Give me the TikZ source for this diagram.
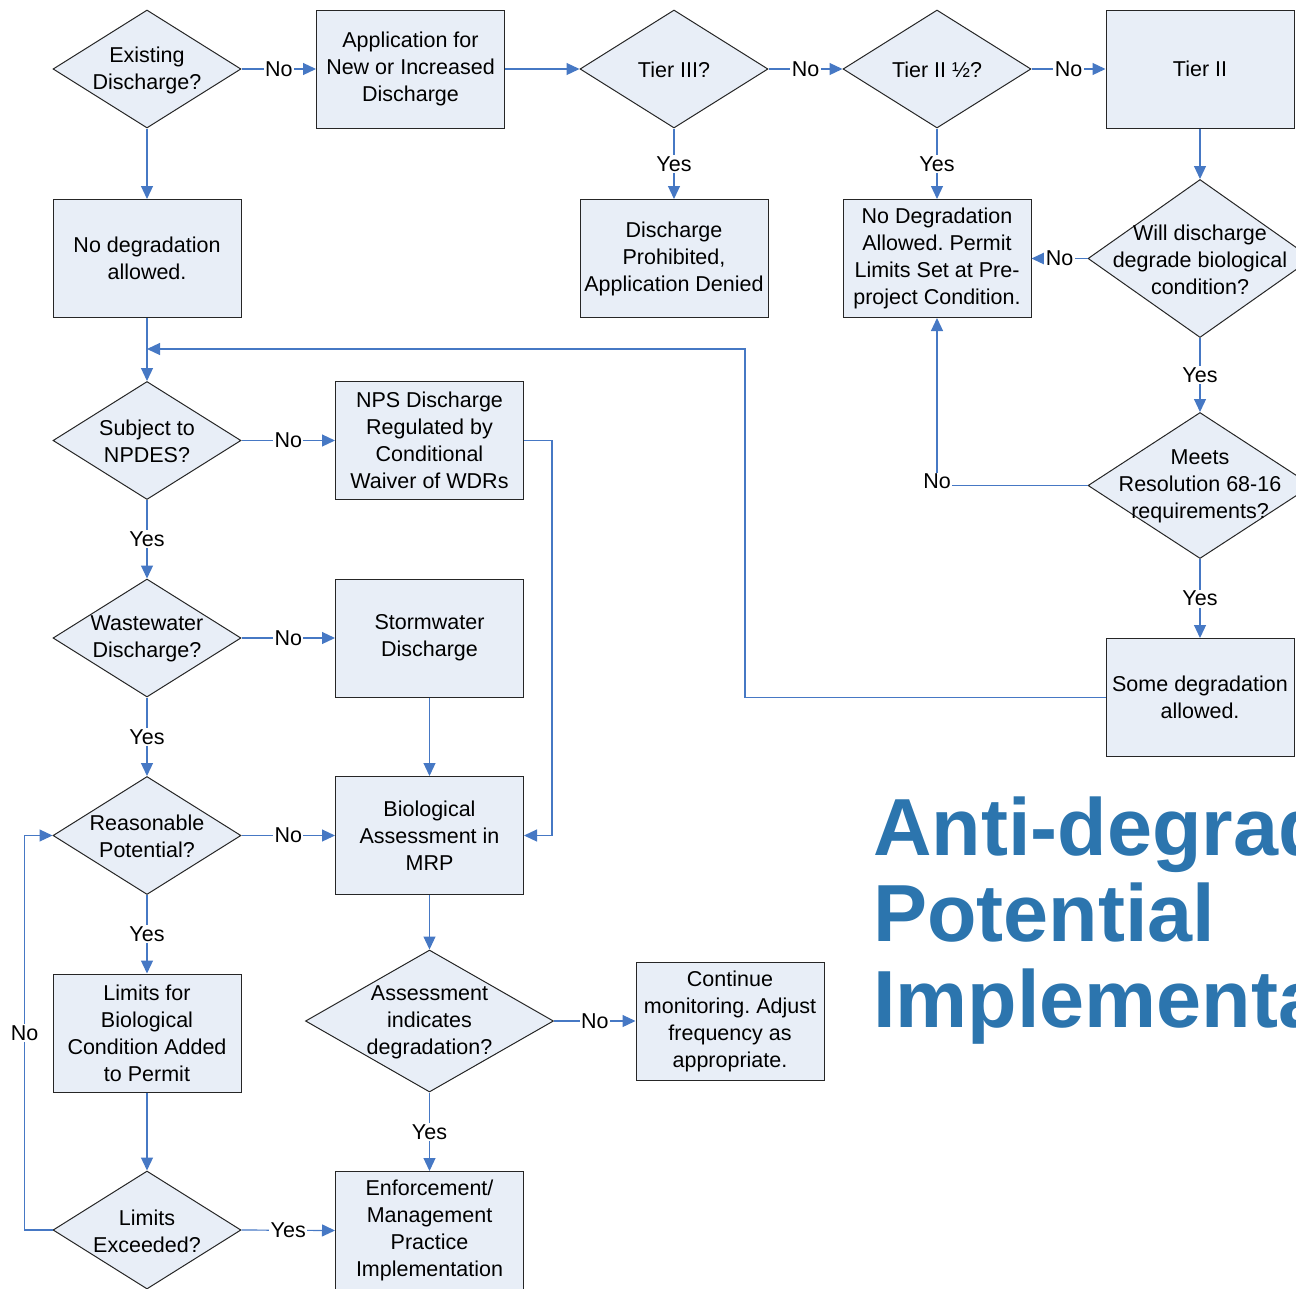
\documentclass[tikz,border=0pt]{standalone}
\usepackage{fontspec}
\setmainfont{Liberation Sans}
\usetikzlibrary{shapes.geometric,arrows.meta}
\definecolor{boxfill}{RGB}{232,238,247}
\definecolor{flowblue}{RGB}{70,120,196}
\definecolor{titleblue}{RGB}{44,117,174}
\frenchspacing
\begin{document}
\begin{tikzpicture}[x=1pt,y=-1pt,
  every node/.style={font=\fontsize{21.5}{27}\selectfont},
  procbox/.style={draw=black!85, line width=1pt, fill=boxfill, minimum width=188pt,
    minimum height=118pt, inner sep=0pt, align=center},
  decision/.style={diamond, draw=black!85, line width=1pt, fill=boxfill,
    minimum width=188pt, minimum height=118pt, inner sep=0pt},
  dtext/.style={align=center, inner sep=0pt, yshift=-1pt},
  flow/.style={draw=flowblue, line width=1.2pt, -{Triangle[length=13pt,width=12pt]}},
  elabel/.style={fill=white, inner sep=1.5pt},
  ttl/.style={font=\fontsize{81}{86}\selectfont\bfseries, text=titleblue,
    anchor=base west, inner sep=0pt}
]
\useasboundingbox (0,0) rectangle (1296,1288);
\clip (0,0) rectangle (1296,1288);

% --- top row ---
\node[decision, label={[dtext]center:{Existing\\Discharge?}}] (exist) at (147,69) {};
\node[procbox] (app) at (410.5,69) {Application for\\New or Increased\\Discharge};
\node[decision, label={[dtext]center:{Tier III?}}] (tier3) at (674,69) {};
\node[decision, label={[dtext]center:{Tier II ½?}}] (tier25) at (937,69) {};
\node[procbox] (tier2) at (1200,69) {Tier II};

% --- second row ---
\node[procbox] (nodeg) at (147,258.5) {No degradation\\allowed.};
\node[procbox] (prohib) at (674,258.5) {Discharge\\Prohibited,\\Application Denied};
\node[procbox] (nodegA) at (937,258.5) {No Degradation\\Allowed. Permit\\Limits Set at Pre-\\project Condition.};
\node[decision, minimum width=224pt, minimum height=158pt,
  label={[dtext]center:{Will discharge\\degrade biological\\condition?}}] (will) at (1200,258.5) {};

% --- right column ---
\node[decision, minimum width=224pt, minimum height=146pt,
  label={[dtext]center:{Meets\\Resolution 68-16\\requirements?}}] (meets) at (1200,485.5) {};
\node[procbox] (some) at (1200,697.5) {Some degradation\\allowed.};

% --- left columns ---
\node[decision, label={[dtext]center:{Subject to\\NPDES?}}] (npdes) at (147,440.5) {};
\node[procbox] (nps) at (429.5,440.5) {NPS Discharge\\Regulated by\\Conditional\\Waiver of WDRs};
\node[decision, label={[dtext]center:{Wastewater\\Discharge?}}] (waste) at (147,638) {};
\node[procbox] (storm) at (429.5,638) {Stormwater\\Discharge};
\node[decision, label={[dtext]center:{Reasonable\\Potential?}}] (reas) at (147,835.5) {};
\node[procbox] (bio) at (429.5,835.5) {Biological\\Assessment in\\MRP};
\node[procbox] (limits) at (147,1033) {Limits for\\Biological\\Condition Added\\to Permit};
\node[decision, minimum width=248pt, minimum height=142pt,
  label={[dtext]center:{Assessment\\indicates\\degradation?}}] (assess) at (429.5,1021) {};
\node[procbox] (cont) at (730,1021) {Continue\\monitoring. Adjust\\frequency as\\appropriate.};
\node[decision, label={[dtext]center:{Limits\\Exceeded?}}] (exceed) at (147,1230) {};
\node[procbox] (enf) at (429.5,1230.5) {Enforcement/\\Management\\Practice\\Implementation};

% --- title ---
\node[ttl] (title1) at (873,855) {Anti-degradation};
\node[ttl] (title2) at (873,941) {Potential};
\node[ttl] (title3) at (873,1027) {Implementation};

% --- connectors ---
\coordinate (loopturn) at (745,349);
\coordinate (merge) at (147,349);

\draw[flow] (exist.east) -- node[elabel]{No} (app.west);
\draw[flow] (exist.south) -- (nodeg.north);
\draw[flow] (app.east) -- (tier3.west);
\draw[flow] (tier3.east) -- node[elabel]{No} (tier25.west);
\draw[flow] (tier25.east) -- node[elabel]{No} (tier2.west);
\draw[flow] (tier3.south) -- node[elabel]{Yes} (prohib.north);
\draw[flow] (tier25.south) -- node[elabel]{Yes} (nodegA.north);
\draw[flow] (tier2.south) -- (will.north);
\draw[flow] (will.west) -- node[elabel]{No} (nodegA.east);
\draw[flow] (will.south) -- node[elabel]{Yes} (meets.north);
\draw[flow] (meets.west) -| node[elabel, pos=0.5, yshift=4pt]{No} (nodegA.south);
\draw[flow] (meets.south) -- node[elabel]{Yes} (some.north);
\draw[flow] (some.west) -| (loopturn) -- (merge);

\draw[flow] (nodeg.south) -- (npdes.north);
\draw[flow] (npdes.east) -- node[elabel]{No} (nps.west);
\draw[flow] (npdes.south) -- node[elabel]{Yes} (waste.north);
\draw[flow] (nps.east) -- ++(28,0) |- (bio.east);
\draw[flow] (waste.east) -- node[elabel]{No} (storm.west);
\draw[flow] (waste.south) -- node[elabel]{Yes} (reas.north);
\draw[flow] (storm.south) -- (bio.north);
\draw[flow] (reas.east) -- node[elabel]{No} (bio.west);
\draw[flow] (reas.south) -- node[elabel]{Yes} (limits.north);
\draw[flow] (bio.south) -- (assess.north);
\draw[flow] (assess.east) -- node[elabel]{No} (cont.west);
\draw[flow] (assess.south) -- node[elabel]{Yes} (enf.north);
\draw[flow] (limits.south) -- (exceed.north);
\draw[flow] (exceed.west) -- ++(-28,0) |- node[elabel, pos=0.25]{No} (reas.west);
\draw[flow] (exceed.east) -- node[elabel]{Yes} (enf.west);
\end{tikzpicture}
\end{document}
